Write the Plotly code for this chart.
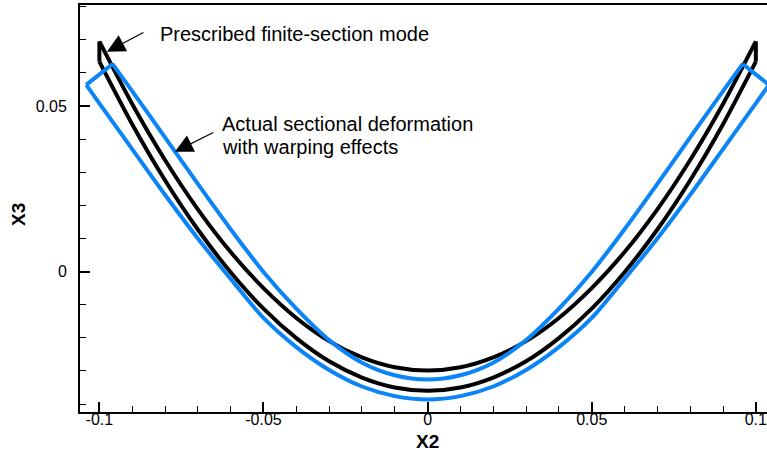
import plotly.graph_objects as go

# ---- data ----
x2_black = [-0.10, -0.09, -0.08, -0.07, -0.06, -0.05, -0.04, -0.03, -0.02, -0.01, 0.0,
            0.01, 0.02, 0.03, 0.04, 0.05, 0.06, 0.07, 0.08, 0.09, 0.10]
x3_black_inner = [0.0695, 0.0506, 0.0337, 0.0188, 0.0059, -0.0050, -0.0140, -0.0210, -0.0259, -0.0289, -0.0299,
                  -0.0289, -0.0259, -0.0210, -0.0140, -0.0050, 0.0059, 0.0188, 0.0337, 0.0506, 0.0695]
x3_black_outer = [0.0634, 0.0445, 0.0276, 0.0127, -0.0002, -0.0112, -0.0201, -0.0271, -0.0320, -0.0350, -0.0360,
                  -0.0350, -0.0320, -0.0271, -0.0201, -0.0112, -0.0002, 0.0127, 0.0276, 0.0445, 0.0634]

x2_blue_inner = [-0.096, -0.09, -0.08, -0.07, -0.06, -0.05, -0.04, -0.03, -0.02, -0.01, 0.0,
                 0.01, 0.02, 0.03, 0.04, 0.05, 0.06, 0.07, 0.08, 0.09, 0.096]
x3_blue_inner = [0.0627, 0.0545, 0.0405, 0.0265, 0.0128, -0.0001, -0.0112, -0.0207, -0.0275, -0.0313, -0.0326,
                 -0.0313, -0.0275, -0.0207, -0.0112, -0.0001, 0.0128, 0.0265, 0.0405, 0.0545, 0.0627]

x2_blue_outer = [-0.104, -0.10, -0.09, -0.08, -0.07, -0.06, -0.05, -0.04, -0.03, -0.02, -0.01, 0.0,
                 0.01, 0.02, 0.03, 0.04, 0.05, 0.06, 0.07, 0.08, 0.09, 0.10, 0.104]
x3_blue_outer = [0.0564, 0.0508, 0.0370, 0.0232, 0.0100, -0.0022, -0.0140, -0.0228, -0.0297, -0.0347, -0.0376, -0.0386,
                 -0.0376, -0.0347, -0.0297, -0.0228, -0.0140, -0.0022, 0.0100, 0.0232, 0.0370, 0.0508, 0.0564]

x_tick_vals = [-0.1, -0.05, 0, 0.05, 0.1]
x_tick_text = ["-0.1", "-0.05", "0", "0.05", "0.1"]
y_tick_vals = [0, 0.05]
y_tick_text = ["0", "0.05"]

label_prescribed = "Prescribed finite-section mode"
label_actual_1 = "Actual sectional deformation"
label_actual_2 = "with warping effects"

BLACK = "#000000"
BLUE = "#0a84f6"
LW = 4
FONT = "Liberation Sans, Arial, Helvetica, sans-serif"

fig = go.Figure()


def add_shape(xi, yi, xo, yo, color):
    fig.add_trace(go.Scatter(x=xi, y=yi, mode="lines", line=dict(color=color, width=LW, shape="spline", smoothing=0.8),
                             showlegend=False, hoverinfo="skip"))
    fig.add_trace(go.Scatter(x=xo, y=yo, mode="lines", line=dict(color=color, width=LW, shape="spline", smoothing=0.8),
                             showlegend=False, hoverinfo="skip"))
    # end caps joining the two walls
    fig.add_trace(go.Scatter(x=[xi[0], xo[0], None, xi[-1], xo[-1]],
                             y=[yi[0], yo[0], None, yi[-1], yo[-1]],
                             mode="lines", line=dict(color=color, width=LW),
                             showlegend=False, hoverinfo="skip"))


add_shape(x2_black, x3_black_inner, x2_black, x3_black_outer, BLACK)
add_shape(x2_blue_inner, x3_blue_inner, x2_blue_outer, x3_blue_outer, BLUE)

axis_common = dict(showgrid=False, zeroline=False, showline=True, linewidth=2, linecolor="black",
                   ticks="inside", tickwidth=2, ticklen=10, tickcolor="black",
                   tickfont=dict(family=FONT, size=16, color="black"))

fig.update_xaxes(range=[-0.1059, 0.1034], tickmode="array", tickvals=x_tick_vals, ticktext=x_tick_text,
                 mirror=True, ticklabelstandoff=-8, ticklabeloverflow="allow",
                 minor=dict(tickmode="linear", tick0=0, dtick=0.01, ticks="inside", ticklen=6, tickwidth=1,
                            tickcolor="black"),
                 **axis_common)
fig.update_yaxes(range=[-0.0424, 0.0805], tickmode="array", tickvals=y_tick_vals, ticktext=y_tick_text,
                 mirror=False, ticklabelstandoff=8,
                 minor=dict(tickmode="linear", tick0=0, dtick=0.01, ticks="inside", ticklen=6, tickwidth=1,
                            tickcolor="black"),
                 **axis_common)

ann_font = dict(family=FONT, size=20, color="black")

# arrows
fig.add_annotation(x=-0.0977, y=0.0664, ax=38, ay=-20, text="", showarrow=True,
                   arrowhead=2, arrowsize=3, arrowwidth=1.2, arrowcolor="black")
fig.add_annotation(x=-0.0770, y=0.0362, ax=40, ay=-20, text="", showarrow=True,
                   arrowhead=2, arrowsize=3, arrowwidth=1.2, arrowcolor="black")

# labels
fig.add_annotation(x=-0.0821, y=0.0718, xanchor="left", yanchor="middle", text=label_prescribed,
                   showarrow=False, font=ann_font)
fig.add_annotation(x=-0.0632, y=0.0446, xanchor="left", yanchor="middle", text=label_actual_1,
                   showarrow=False, font=ann_font)
fig.add_annotation(x=-0.0632, y=0.0377, xanchor="left", yanchor="middle", text=label_actual_2,
                   showarrow=False, font=ann_font)

# axis titles
fig.add_annotation(x=0, xref="x", y=-0.0713, yref="paper", text="<b>X2</b>", showarrow=False,
                   xanchor="center", yanchor="middle", font=dict(family=FONT, size=19, color="black"))
fig.add_annotation(x=-0.0902, xref="paper", y=0.484, yref="paper", text="<b>X3</b>", showarrow=False,
                   textangle=-90, xanchor="center", yanchor="middle",
                   font=dict(family=FONT, size=19, color="black"))

fig.update_layout(width=767, height=451, margin=dict(l=80, r=0, t=5, b=39),
                  paper_bgcolor="white", plot_bgcolor="white")

fig.write_html("out.html", config={"displayModeBar": False},
               post_script="document.body.style.margin='0px';document.body.style.overflow='hidden';")
